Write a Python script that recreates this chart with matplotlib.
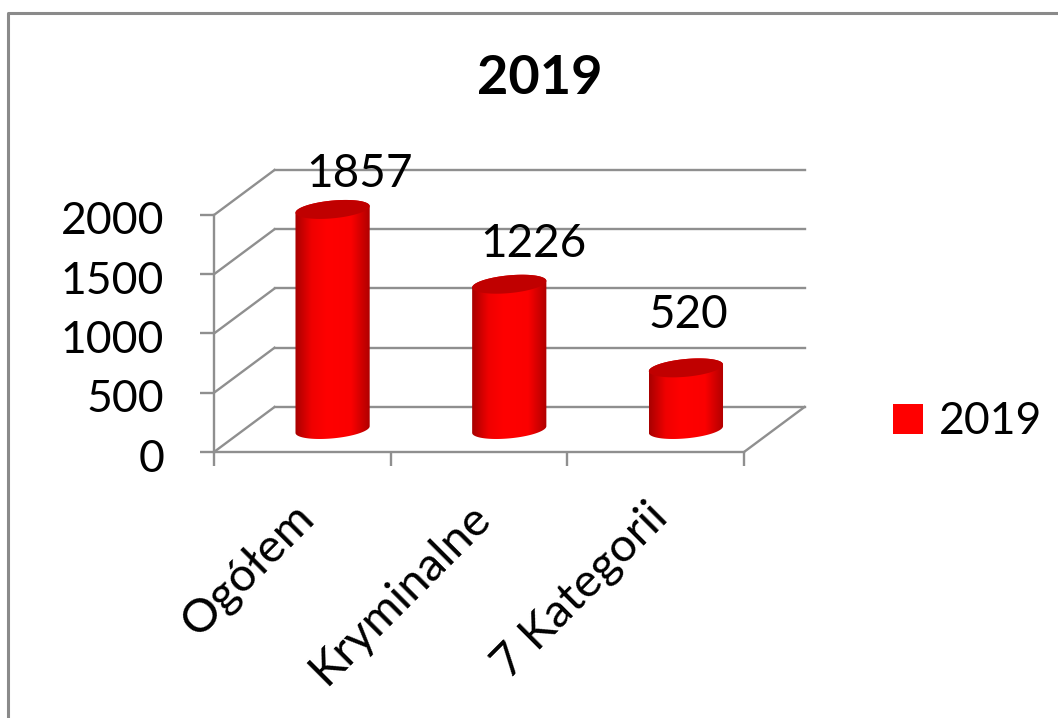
import matplotlib.pyplot as plt
import numpy as np
from matplotlib.colors import LinearSegmentedColormap
from matplotlib.lines import Line2D
from matplotlib.patches import PathPatch
from matplotlib.path import Path
from matplotlib.transforms import Affine2D

categories = ["Ogółem", "Kryminalne", "7 Kategorii"]
values = [1857, 1226, 520]
series_name = "2019"
y_ticks = [0, 500, 1000, 1500, 2000]

# label shift from the top of each bar, pixels
label_shift = [(27, 35), (24, 40), (2, 53)]

GRID = "#8f8f8f"
W, H = 1058, 718
DEPTH = (60.5, 45)

plt.rcParams["font.family"] = ["Lato", "DejaVu Sans"]

fig = plt.figure(figsize=(W / 100, H / 100), dpi=100)
ax = fig.add_axes([214 / W, (H - 452) / H, 530 / W, 237 / H])
ax.set_xlim(0, 3)
ax.set_ylim(0, 2000)
ax.patch.set_alpha(0)

# outer chart border
fig.add_artist(Line2D([8 / W, 8 / W, 1], [0, 1 - 13 / H, 1 - 13 / H], color="#8a8a8a", lw=2.2))

back = ax.transData + Affine2D().translate(*DEPTH)
mid = ax.transData + Affine2D().translate(DEPTH[0] / 2, DEPTH[1] / 2)

# walls and floor
for v in y_ticks:
    ax.plot([0, 3], [v, v], color=GRID, lw=1.7, transform=back, clip_on=False, zorder=1)
    x0, y0 = ax.transData.transform((0, v))
    ax.add_line(Line2D([x0, x0 + DEPTH[0]], [y0, y0 + DEPTH[1]], color=GRID, lw=1.7, transform=None, clip_on=False, zorder=1))
x0, y0 = ax.transData.transform((3, 0))
ax.add_line(Line2D([x0, x0 + DEPTH[0]], [y0, y0 + DEPTH[1]], color=GRID, lw=1.7, transform=None, clip_on=False, zorder=1))

# cylinders
shade = LinearSegmentedColormap.from_list(
    "shade", [(0, "#a80000"), (0.22, "#f00000"), (0.42, "#ff0000"), (0.75, "#fb0000"), (1, "#b00000")]
)
half_w = 0.21
ell_h = 75
ell_skew = 28
t_low = np.linspace(np.pi, 2 * np.pi, 60)
t_up = np.linspace(0, np.pi, 60)
t_all = np.linspace(0, 2 * np.pi, 120)

for i, (name, v) in enumerate(zip(categories, values)):
    c = i + 0.5
    low_x = c + half_w * np.cos(t_low)
    low_y = ell_h * np.sin(t_low) + ell_skew * np.cos(t_low)
    top_x = c + half_w * np.cos(t_up)
    top_y = v + ell_h * np.sin(t_up) + ell_skew * np.cos(t_up)
    outline = np.column_stack([np.r_[low_x, top_x], np.r_[low_y, top_y]])
    body = PathPatch(Path(outline), transform=mid, facecolor="none", edgecolor="none", zorder=2)
    ax.add_patch(body)
    img = ax.imshow(
        np.linspace(0, 1, 128)[None, :],
        extent=[c - half_w, c + half_w, -ell_h * 1.5, v + ell_h * 1.5],
        cmap=shade,
        aspect="auto",
        transform=mid,
        zorder=2,
    )
    img.set_clip_box(fig.bbox)
    img.set_clip_path(body)
    cap = np.column_stack(
        [c + half_w * np.cos(t_all), v + ell_h * np.sin(t_all) + ell_skew * np.cos(t_all)]
    )
    ax.add_patch(PathPatch(Path(cap), transform=mid, facecolor="#c00000", edgecolor="none", clip_on=False, zorder=3))
    ax.annotate(
        str(v),
        xy=(c, v),
        xycoords=mid,
        xytext=label_shift[i],
        textcoords="offset pixels",
        ha="center",
        va="center",
        fontsize=33,
        color="black",
        zorder=4,
    )

ax.set_xlim(0, 3)
ax.set_ylim(0, 2000)

# axes
for side in ["top", "right"]:
    ax.spines[side].set_visible(False)
for side in ["left", "bottom"]:
    ax.spines[side].set_color(GRID)
    ax.spines[side].set_linewidth(1.7)
ax.set_yticks(y_ticks)
ax.tick_params(axis="y", length=10, width=1.7, color=GRID, pad=26, labelsize=32)
for lab in ax.get_yticklabels():
    lab.set_transform(lab.get_transform() + Affine2D().translate(0, -3))
ax.set_xticks([0, 1, 2, 3])
ax.set_xticklabels([])
ax.tick_params(axis="x", which="major", length=10, width=1.7, color=GRID)
ax.set_xticks(np.arange(len(categories)) + 0.5, categories, minor=True)
ax.tick_params(axis="x", which="minor", length=0, pad=30, labelsize=34)
for lab in ax.get_xticklabels(minor=True):
    lab.set_rotation(45)
    lab.set_ha("right")
    lab.set_va("top")
    lab.set_rotation_mode("anchor")
    lab.set_transform(lab.get_transform() + Affine2D().translate(-10, -2))

fig.text(540 / W, 1 - 79 / H, series_name, ha="center", va="center", fontsize=39, fontweight="bold")

handle = Line2D([], [], marker="s", ls="none", color="#ff0000", markersize=21, markeredgewidth=0)
fig.legend(
    [handle],
    [series_name],
    loc="center left",
    bbox_to_anchor=(892 / W, 1 - 422 / H),
    frameon=False,
    fontsize=32,
    handlelength=0.7,
    handletextpad=0.35,
    borderpad=0,
    borderaxespad=0,
)

fig.savefig("out.png", dpi=100)
